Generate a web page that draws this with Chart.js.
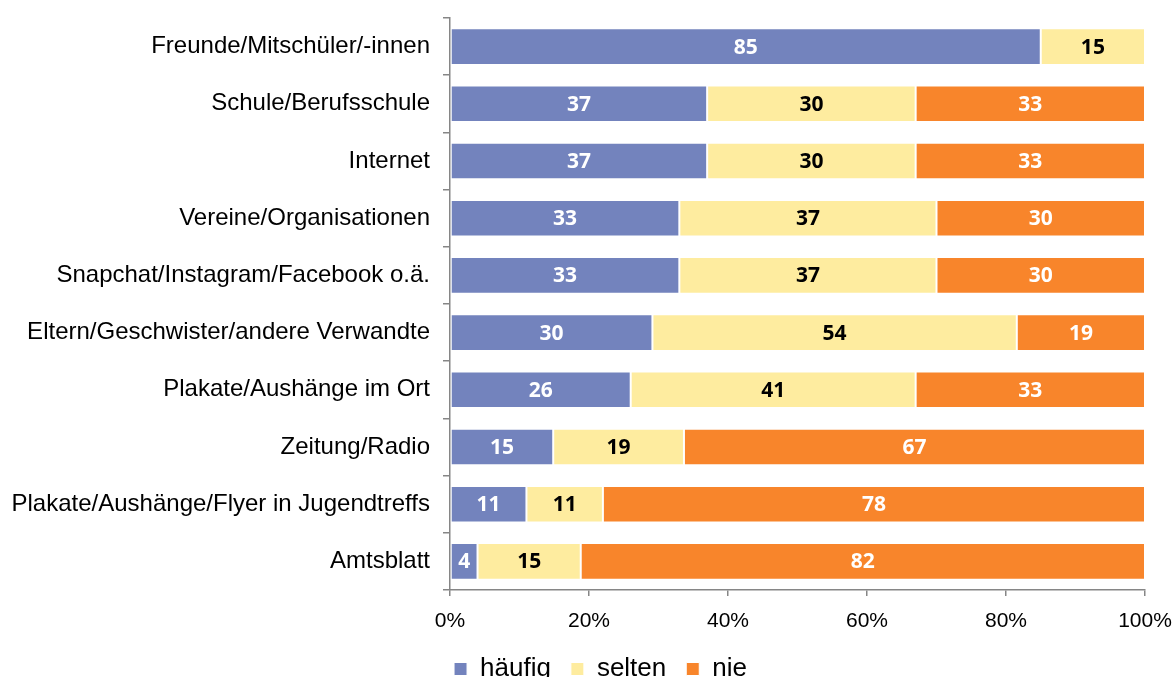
<!DOCTYPE html>
<html>
<head>
<meta charset="utf-8">
<script src="https://cdn.jsdelivr.net/npm/chart.js@4/dist/chart.umd.min.js"></script>
<style>
	html, body { margin: 0; padding: 0; background: #fff; }
	#wrap { width: 1176px; height: 680px; }
</style>
</head>
<body>
<div id="wrap"><canvas id="chart" width="1176" height="680"></canvas></div>
<script>
// Data (percent, as printed on the bars)
var categories = [
	"Freunde/Mitschüler/-innen",
	"Schule/Berufsschule",
	"Internet",
	"Vereine/Organisationen",
	"Snapchat/Instagram/Facebook o.ä.",
	"Eltern/Geschwister/andere Verwandte",
	"Plakate/Aushänge im Ort",
	"Zeitung/Radio",
	"Plakate/Aushänge/Flyer in Jugendtreffs",
	"Amtsblatt"
];
var haeufig = [85, 37, 37, 33, 33, 30, 26, 15, 11, 4];
var selten = [15, 30, 30, 37, 37, 54, 41, 19, 11, 15];
var nie = [0, 33, 33, 30, 30, 19, 33, 67, 78, 82];
var seriesNames = ["häufig", "selten", "nie"];
var xTicks = [0, 20, 40, 60, 80, 100];

var colors = ["#7383bd", "#feec9f", "#f8852b"];
var labelColors = ["#ffffff", "#000000", "#ffffff"];

// 100% stacked: every row is scaled to its own total
var raw = [haeufig, selten, nie];
function share(series) {
	var out = [];
	for (var i = 0; i < series.length; i++) {
		var total = haeufig[i] + selten[i] + nie[i];
		out.push(series[i] / total * 100);
	}
	return out;
}

// Draw the printed values in the middle of each segment
var valueLabels = {
	id: "valueLabels",
	afterDatasetsDraw: function(chart) {
		var ctx = chart.ctx;
		ctx.save();
		ctx.font = "bold 21px 'Open Sans'";
		ctx.textAlign = "center";
		ctx.textBaseline = "middle";
		chart.data.datasets.forEach(function(ds, d) {
			var meta = chart.getDatasetMeta(d);
			meta.data.forEach(function(bar, i) {
				var v = raw[d][i];
				if (!v) return;
				ctx.fillStyle = labelColors[d];
				ctx.fillText(String(v), (bar.x + bar.base) / 2, bar.y + 1);
			});
		});
		ctx.restore();
	}
};

// Legend: keep wide item spacing but a short box, then nudge it into place
var legendFix = {
	id: "legendFix",
	beforeLayout: function(chart) {
		var lg = chart.legend;
		if (lg && !lg._fixed) {
			var fit = lg.fit;
			lg.fit = function() {
				fit.call(this);
				this.height = 41;
			};
			lg._fixed = true;
		}
	},
	afterLayout: function(chart) {
		var lg = chart.legend;
		if (!lg) return;
		lg.top -= 3; lg.bottom -= 3;
		lg.left += 28; lg.right += 28;
	}
};

var datasets = [];
for (var s = 0; s < seriesNames.length; s++) {
	datasets.push({
		label: seriesNames[s],
		data: share(raw[s]),
		backgroundColor: colors[s],
		borderColor: "#ffffff",
		borderWidth: 1,
		borderSkipped: false,
		barPercentage: 0.64,
		categoryPercentage: 1
	});
}

var axisColor = "#868686";

new Chart(document.getElementById("chart"), {
	type: "bar",
	data: { labels: categories, datasets: datasets },
	plugins: [valueLabels, legendFix],
	options: {
		indexAxis: "y",
		responsive: false,
		animation: false,
		layout: { padding: { top: 18, right: 31, left: 0, bottom: 0 } },
		plugins: {
			tooltip: { enabled: false },
			legend: {
				position: "bottom",
				labels: {
					font: { family: "'Liberation Sans', Arial", size: 26 },
					color: "#000",
					boxWidth: 13,
					boxHeight: 13,
					padding: 20
				}
			}
		},
		scales: {
			x: {
				stacked: true,
				min: 0,
				max: 100,
				afterBuildTicks: function(scale) {
					scale.ticks = xTicks.map(function(v) { return { value: v }; });
				},
				afterFit: function(scale) {
					scale.height = 49;
					scale.paddingLeft = 0;
					scale.paddingRight = 0;
				},
				border: { color: axisColor, width: 1.5 },
				grid: { drawOnChartArea: false, drawTicks: true, tickLength: 6, color: axisColor, lineWidth: 1.5 },
				ticks: {
					padding: 13,
					color: "#000",
					font: { family: "'Liberation Sans', Arial", size: 21 },
					callback: function(v) { return v + "%"; }
				}
			},
			y: {
				stacked: true,
				afterFit: function(scale) {
					scale.width = 450;
					scale.paddingTop = 0;
					scale.paddingBottom = 0;
				},
				border: { color: axisColor, width: 1.5 },
				grid: { offset: true, drawOnChartArea: false, drawTicks: true, tickLength: 7, color: axisColor, lineWidth: 1.5 },
				ticks: {
					padding: 13,
					color: "#000",
					font: { family: "'Liberation Sans', Arial", size: 24 }
				}
			}
		}
	}
});
</script>
</body>
</html>
